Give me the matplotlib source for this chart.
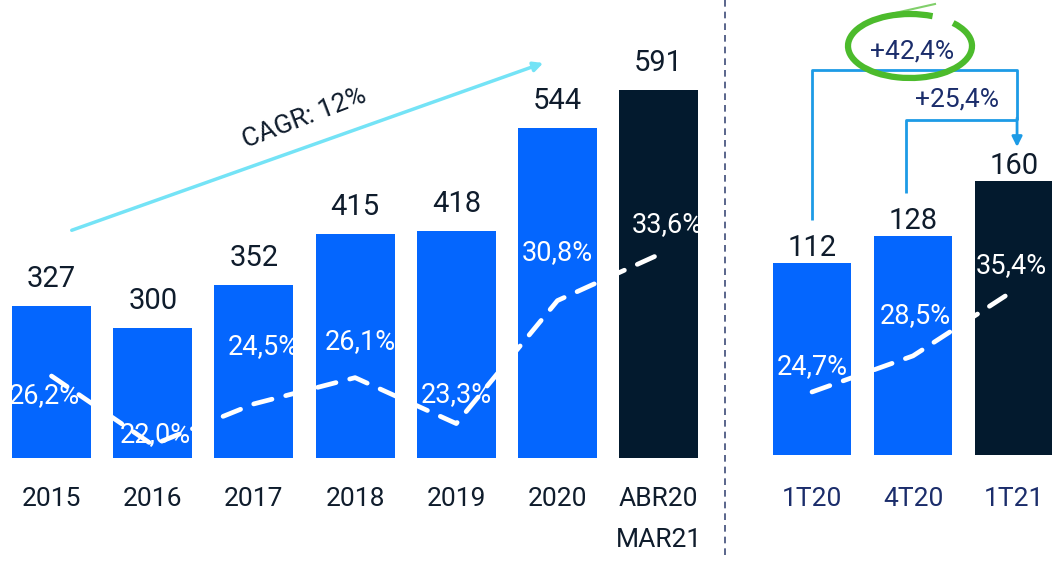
import matplotlib.pyplot as plt
from matplotlib.patches import Arc
from matplotlib.lines import Line2D

plt.rcParams['font.family'] = ['Roboto', 'DejaVu Sans']

# annual data
years = ["2015", "2016", "2017", "2018", "2019", "2020", "ABR20\nMAR21"]
annual_values = [327, 300, 352, 415, 418, 544, 591]
annual_pct = [26.2, 22.0, 24.5, 26.1, 23.3, 30.8, 33.6]

# quarterly data
quarters = ["1T20", "4T20", "1T21"]
quarter_values = [112, 128, 160]
quarter_pct = [24.7, 28.5, 35.4]

cagr_label = "CAGR: 12%"
growth_labels = ["+42,4%", "+25,4%"]

BLUE = "#0466fe"
DARK = "#031a2e"
TXT = "#0f1c2c"
NAVY = "#1b2d6b"
LINK = "#1d9be6"
GREEN = "#4cbb2c"

W, H = 1052, 561
fig = plt.figure(figsize=(W / 100, H / 100), dpi=100)


def pct_fmt(v):
    return f"{v:.1f}%".replace(".", ",")


def setup(ax, labels, color):
    ax.set_xticks(range(len(labels)))
    ax.set_xticklabels(labels, fontsize=19, color=color, linespacing=1.9)
    ax.tick_params(axis="x", length=0, pad=21)
    ax.set_yticks([])
    for s in ax.spines.values():
        s.set_visible(False)


# left block: annual
ax1 = fig.add_axes([0, (H - 458) / H, 712 / W, 458 / H])
ax1.set_xlim(-0.509, 6.527)
ax1.set_ylim(140.6, 700.5)
colors1 = [BLUE] * (len(years) - 1) + [DARK]
ax1.bar(range(len(years)), annual_values, width=0.78, color=colors1)
for i, v in enumerate(annual_values):
    ax1.annotate(str(v), (i, v), xytext=(0, 13), textcoords="offset pixels",
                 ha="center", va="bottom", fontsize=21, color=TXT)
setup(ax1, years, TXT)

ax1b = ax1.twinx()
ax1b.set_ylim(21.2, 49.13)
ax1b.set_yticks([])
for s in ax1b.spines.values():
    s.set_visible(False)
ax1b.plot(range(len(years)), annual_pct, color="white", lw=3.4,
          dashes=(4.0, 3.0), dash_capstyle="round")
off1 = [(-7, -20), (3, 10), (9, 57), (5, 36), (0, 29), (0, 48), (9, 30)]
for i, v in enumerate(annual_pct):
    ax1b.annotate(pct_fmt(v), (i, v), xytext=off1[i], textcoords="offset pixels",
                  ha="center", va="center", fontsize=19.5, color="white")

# CAGR arrow
ax1.annotate("", xy=(4.86, 623.5), xytext=(0.2, 419),
             arrowprops=dict(arrowstyle="-|>", color="#74e3f6", lw=2.5,
                             mutation_scale=14, shrinkA=0, shrinkB=0))
ax1.text(2.5, 556, cagr_label, rotation=21, ha="center", va="center",
         fontsize=19, color=TXT)

# right block: quarterly
ax2 = fig.add_axes([740 / W, (H - 458) / H, 312 / W, 458 / H])
ax2.set_xlim(-0.713, 2.376)
ax2.set_ylim(-2, 266)
colors2 = [BLUE] * (len(quarters) - 1) + [DARK]
ax2.bar(range(len(quarters)), quarter_values, width=0.78, color=colors2)
for i, v in enumerate(quarter_values):
    ax2.annotate(str(v), (i, v), xytext=(0, 1), textcoords="offset pixels",
                 ha="center", va="bottom", fontsize=21, color=TXT)
setup(ax2, quarters, NAVY)

ax2b = ax2.twinx()
ax2b.set_ylim(17.75, 65.96)
ax2b.set_yticks([])
for s in ax2b.spines.values():
    s.set_visible(False)
ax2b.plot(range(len(quarters)), quarter_pct, color="white", lw=3.4,
          dashes=(4.0, 3.0), dash_capstyle="round")
off2 = [(0, 25), (2, 40), (-3, 25)]
for i, v in enumerate(quarter_pct):
    ax2b.annotate(pct_fmt(v), (i, v), xytext=off2[i], textcoords="offset pixels",
                  ha="center", va="center", fontsize=19.5, color="white")

# growth brackets
kw = dict(color=LINK, lw=2, clip_on=False, solid_capstyle="butt")
ax2.plot([0, 0, 2.03, 2.03], [137, 225, 225, 196], **kw)
ax2.plot([0.93, 0.93, 2.03], [153, 196, 196], **kw)
ax2.annotate("", xy=(2.03, 180), xytext=(2.03, 197),
             arrowprops=dict(arrowstyle="-|>", color=LINK, lw=2,
                             mutation_scale=15, shrinkA=0, shrinkB=0))
ax2.text(0.99, 236, growth_labels[0], ha="center", va="center",
         fontsize=19, color=NAVY)
ax2.text(1.436, 208, growth_labels[1], ha="center", va="center",
         fontsize=19, color=NAVY)

# green hand-drawn highlight around +42,4%
fig.add_artist(Arc((910 / W, 1 - 46 / H), 124 / W, 64 / H,
                   theta1=68, theta2=45, lw=4.5, color=GREEN,
                   transform=fig.transFigure))
fig.add_artist(Line2D([895 / W, 935 / W], [1 - 13 / H, 1 - 4 / H],
                      transform=fig.transFigure, color=GREEN, lw=1.5,
                      alpha=0.7))

# separator
fig.add_artist(Line2D([725 / W, 725 / W], [1, 1 - 555 / H],
                      transform=fig.transFigure, color="#3d4c78", lw=1.2,
                      ls=(0, (4, 3))))

fig.savefig("out.png", dpi=100)
